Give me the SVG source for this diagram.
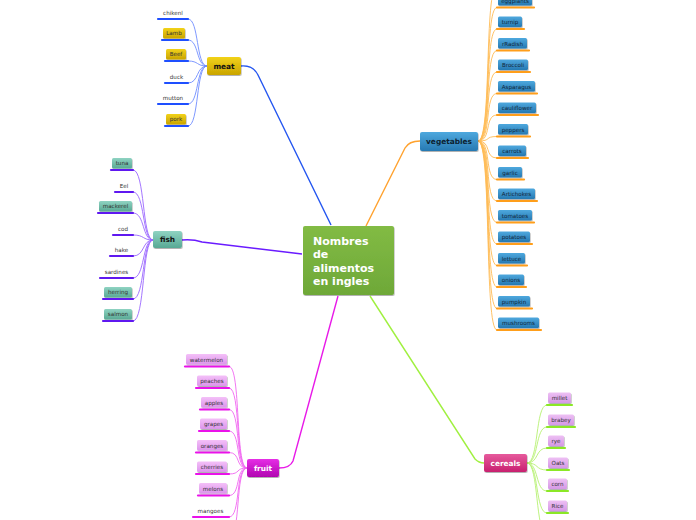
<svg xmlns="http://www.w3.org/2000/svg" width="696" height="520" viewBox="0 0 696 520">
<defs>
<linearGradient id="gGreen" x1="0" y1="0" x2="0" y2="1"><stop offset="0" stop-color="#82bb44"/><stop offset="1" stop-color="#6ea838"/></linearGradient>
<linearGradient id="gGold" x1="0" y1="0" x2="0" y2="1"><stop offset="0" stop-color="#f2d21a"/><stop offset="1" stop-color="#c9a400"/></linearGradient>
<linearGradient id="gTeal" x1="0" y1="0" x2="0" y2="1"><stop offset="0" stop-color="#8fd3c2"/><stop offset="1" stop-color="#58a994"/></linearGradient>
<linearGradient id="gBlue" x1="0" y1="0" x2="0" y2="1"><stop offset="0" stop-color="#4ea8de"/><stop offset="1" stop-color="#2679b2"/></linearGradient>
<linearGradient id="gMag" x1="0" y1="0" x2="0" y2="1"><stop offset="0" stop-color="#e62ee6"/><stop offset="1" stop-color="#b005b0"/></linearGradient>
<linearGradient id="gPink" x1="0" y1="0" x2="0" y2="1"><stop offset="0" stop-color="#e65a9c"/><stop offset="1" stop-color="#c8206f"/></linearGradient>
<linearGradient id="gLFruit" x1="0" y1="0" x2="0" y2="1"><stop offset="0" stop-color="#f4c0f8"/><stop offset="1" stop-color="#dc94ec"/></linearGradient>
<linearGradient id="gLCer" x1="0" y1="0" x2="0" y2="1"><stop offset="0" stop-color="#eec0f4"/><stop offset="1" stop-color="#d598e6"/></linearGradient>
<filter id="sh" x="-20%" y="-20%" width="140%" height="150%"><feDropShadow dx="0.6" dy="1" stdDeviation="0.7" flood-color="#000" flood-opacity="0.3"/></filter>
</defs>
<style>
.lbl{font-family:"DejaVu Sans","Liberation Sans",sans-serif;font-size:5.6px;fill:#333;text-anchor:middle}
.nd{font-family:"DejaVu Sans","Liberation Sans",sans-serif;font-size:7.4px;font-weight:bold;text-anchor:middle}
.ctr{font-family:"DejaVu Sans","Liberation Sans",sans-serif;font-size:11px;font-weight:bold;fill:#fff}
.c{fill:none;stroke-width:0.9}
.u{stroke-width:2.2;stroke-linecap:round;fill:none}
.cm{stroke:#6f8cff}.um{stroke:#1e4fff}
.cf{stroke:#9a66ff}.uf{stroke:#5f18f0}
.cv{stroke:#ffbb55}.uv{stroke:#ff9e1a}
.cr{stroke:#f066f0}.ur{stroke:#ea12ea}
.cc{stroke:#b6f070}.uc{stroke:#8be826}
</style>

<g id="connectors">
<path d="M241,66 Q253,65 258,75 L331,225" fill="none" stroke="#2456f0" stroke-width="1.4"/>
<path d="M182,240 Q193,239 202,242 L302,254" fill="none" stroke="#6a1bff" stroke-width="1.4"/>
<path d="M366,226 L405,148 Q409,141 420,141" fill="none" stroke="#ffa22e" stroke-width="1.4"/>
<path d="M338,296 L293,461 Q290,468 279,468" fill="none" stroke="#e81ae8" stroke-width="1.4"/>
<path d="M370,296 L475,459 Q479,463 484,463" fill="none" stroke="#a0f040" stroke-width="1.4"/>
<g class="c cm">
<path d="M207,66 C196,66 199,19 188,19"/><path d="M207,66 C196,66 199,40 188,40"/><path d="M207,66 C196,66 199,61 188,61"/>
<path d="M207,66 C196,66 199,83 188,83"/><path d="M207,66 C196,66 199,104 188,104"/><path d="M207,66 C196,66 199,126 188,126"/>
</g>
<g class="c cf">
<path d="M153,240 C142,240 145,170 133,170"/><path d="M153,240 C142,240 145,192 133,192"/><path d="M153,240 C142,240 145,213 133,213"/>
<path d="M153,240 C142,240 145,235 133,235"/><path d="M153,240 C142,240 145,256 133,256"/><path d="M153,240 C142,240 145,278 133,278"/>
<path d="M153,240 C142,240 145,299 133,299"/><path d="M153,240 C142,240 145,321 133,321"/>
</g>
<g class="c cv">
<path d="M478,141 C492,141 484,-14 497,-14"/>
<path d="M478,141 C492,141 484,7.5 497,7.5"/><path d="M478,141 C492,141 484,29 497,29"/><path d="M478,141 C492,141 484,50.5 497,50.5"/>
<path d="M478,141 C492,141 484,72 497,72"/><path d="M478,141 C492,141 484,93.5 497,93.5"/><path d="M478,141 C492,141 484,115 497,115"/>
<path d="M478,141 C492,141 484,136.5 497,136.5"/><path d="M478,141 C492,141 484,158 497,158"/><path d="M478,141 C492,141 484,179.5 497,179.5"/>
<path d="M478,141 C492,141 484,201 497,201"/><path d="M478,141 C492,141 484,222.5 497,222.5"/><path d="M478,141 C492,141 484,244 497,244"/>
<path d="M478,141 C492,141 484,265.5 497,265.5"/><path d="M478,141 C492,141 484,287 497,287"/><path d="M478,141 C492,141 484,308.5 497,308.5"/>
<path d="M478,141 C492,141 484,330 497,330"/>
</g>
<g class="c cr">
<path d="M247,468 C235,468 241,366.5 229,366.5"/><path d="M247,468 C235,468 241,388 229,388"/><path d="M247,468 C235,468 241,409.5 229,409.5"/>
<path d="M247,468 C235,468 241,431 229,431"/><path d="M247,468 C235,468 241,452.5 229,452.5"/><path d="M247,468 C235,468 241,474 229,474"/>
<path d="M247,468 C235,468 241,495.5 229,495.5"/><path d="M247,468 C235,468 241,517 229,517"/><path d="M247,468 C235,468 241,538.5 229,538.5"/>
</g>
<g class="c cc">
<path d="M527,463 C539,463 535,405 547,405"/><path d="M527,463 C539,463 535,427 547,427"/><path d="M527,463 C539,463 535,448 547,448"/>
<path d="M527,463 C539,463 535,470 547,470"/><path d="M527,463 C539,463 535,491 547,491"/><path d="M527,463 C539,463 535,513 547,513"/>
<path d="M527,463 C539,463 535,534.5 547,534.5"/>
</g>
</g>

<g id="center">
<rect x="303" y="226" width="91" height="69" rx="2" fill="url(#gGreen)" filter="url(#sh)"/>
<text class="ctr" x="313" y="244.5">Nombres</text>
<text class="ctr" x="313" y="258">de</text>
<text class="ctr" x="313" y="271.5">alimentos</text>
<text class="ctr" x="313" y="285">en ingles</text>
</g>

<g id="meat">
<rect x="207" y="57" width="34" height="18" rx="2" fill="url(#gGold)" filter="url(#sh)"/>
<text class="nd" x="224" y="69.3" fill="#111">meat</text>
</g>
<g id="meat-items">
<g id="chikenl"><path class="u um" d="M158,19 H188"/><text class="lbl" x="173" y="14.5">chikenl</text></g>
<g id="lamb"><rect x="163" y="28" width="22" height="10.5" rx="1.5" fill="url(#gGold)" filter="url(#sh)"/><path class="u um" d="M162,40 H188"/><text class="lbl" x="174" y="35.3">Lamb</text></g>
<g id="beef"><rect x="166" y="49" width="20" height="10.5" rx="1.5" fill="url(#gGold)" filter="url(#sh)"/><path class="u um" d="M165,61 H188"/><text class="lbl" x="176" y="56.3">Beef</text></g>
<g id="duck"><path class="u um" d="M165,83 H188"/><text class="lbl" x="176.5" y="78.5">duck</text></g>
<g id="mutton"><path class="u um" d="M158,104 H188"/><text class="lbl" x="173" y="99.5">mutton</text></g>
<g id="pork"><rect x="166" y="114" width="20" height="10.5" rx="1.5" fill="url(#gGold)" filter="url(#sh)"/><path class="u um" d="M165,126 H188"/><text class="lbl" x="176" y="121.3">pork</text></g>
</g>

<g id="fish">
<rect x="153" y="231" width="29" height="17" rx="2" fill="url(#gTeal)" filter="url(#sh)"/>
<text class="nd" x="167.5" y="242.3" fill="#111">fish</text>
</g>
<g id="fish-items">
<g id="tuna"><rect x="112" y="158" width="20" height="10.5" rx="1.5" fill="url(#gTeal)" filter="url(#sh)"/><path class="u uf" d="M111,170 H133"/><text class="lbl" x="122" y="165.3">tuna</text></g>
<g id="eel"><path class="u uf" d="M115,192 H133"/><text class="lbl" x="124" y="187.5">Eel</text></g>
<g id="mackerel"><rect x="99" y="201" width="33" height="10.5" rx="1.5" fill="url(#gTeal)" filter="url(#sh)"/><path class="u uf" d="M98,213 H133"/><text class="lbl" x="115.5" y="208.3">mackerel</text></g>
<g id="cod"><path class="u uf" d="M113,235 H133"/><text class="lbl" x="123" y="230.5">cod</text></g>
<g id="hake"><path class="u uf" d="M110,256 H133"/><text class="lbl" x="121.5" y="251.5">hake</text></g>
<g id="sardines"><path class="u uf" d="M100,278 H133"/><text class="lbl" x="116.5" y="273.5">sardines</text></g>
<g id="herring"><rect x="104" y="287" width="28" height="10.5" rx="1.5" fill="url(#gTeal)" filter="url(#sh)"/><path class="u uf" d="M103,299 H133"/><text class="lbl" x="118" y="294.3">herring</text></g>
<g id="salmon"><rect x="104" y="309" width="28" height="10.5" rx="1.5" fill="url(#gTeal)" filter="url(#sh)"/><path class="u uf" d="M103,321 H133"/><text class="lbl" x="118" y="316.3">salmon</text></g>
</g>

<g id="vegetables">
<rect x="420" y="132" width="58" height="19" rx="2" fill="url(#gBlue)" filter="url(#sh)"/>
<text class="nd" x="449" y="144" fill="#0c1e30">vegetables</text>
</g>
<g id="vegetable-items" fill="url(#gBlue)">
<g id="eggplants"><rect x="498" y="-5" width="34" height="10.5" rx="1.5" filter="url(#sh)"/><path class="u uv" d="M497,7.5 H534"/><text class="lbl" x="515" y="2.5" style="fill:#10263a">eggplants</text></g>
<g id="turnip"><rect x="498" y="16.5" width="24" height="10.5" rx="1.5" filter="url(#sh)"/><path class="u uv" d="M497,29 H524"/><text class="lbl" x="510" y="24" style="fill:#10263a">turnip</text></g>
<g id="rradish"><rect x="498" y="38" width="29" height="10.5" rx="1.5" filter="url(#sh)"/><path class="u uv" d="M497,50.5 H529"/><text class="lbl" x="512.5" y="45.5" style="fill:#10263a">rRadish</text></g>
<g id="broccoli"><rect x="498" y="59.5" width="30" height="10.5" rx="1.5" filter="url(#sh)"/><path class="u uv" d="M497,72 H530"/><text class="lbl" x="513" y="67" style="fill:#10263a">Broccoli</text></g>
<g id="asparagus"><rect x="498" y="81" width="37" height="10.5" rx="1.5" filter="url(#sh)"/><path class="u uv" d="M497,93.5 H537"/><text class="lbl" x="516.5" y="88.5" style="fill:#10263a">Asparagus</text></g>
<g id="cauliflower"><rect x="498" y="102.5" width="38" height="10.5" rx="1.5" filter="url(#sh)"/><path class="u uv" d="M497,115 H538"/><text class="lbl" x="517" y="110" style="fill:#10263a">cauliflower</text></g>
<g id="peppers"><rect x="498" y="124" width="30" height="10.5" rx="1.5" filter="url(#sh)"/><path class="u uv" d="M497,136.5 H530"/><text class="lbl" x="513" y="131.5" style="fill:#10263a">peppers</text></g>
<g id="carrots"><rect x="498" y="145.5" width="28" height="10.5" rx="1.5" filter="url(#sh)"/><path class="u uv" d="M497,158 H528"/><text class="lbl" x="512" y="153" style="fill:#10263a">carrots</text></g>
<g id="garlic"><rect x="498" y="167" width="24" height="10.5" rx="1.5" filter="url(#sh)"/><path class="u uv" d="M497,179.5 H524"/><text class="lbl" x="510" y="174.5" style="fill:#10263a">garlic</text></g>
<g id="artichokes"><rect x="498" y="188.5" width="37" height="10.5" rx="1.5" filter="url(#sh)"/><path class="u uv" d="M497,201 H537"/><text class="lbl" x="516.5" y="196" style="fill:#10263a">Artichokes</text></g>
<g id="tomatoes"><rect x="498" y="210" width="34" height="10.5" rx="1.5" filter="url(#sh)"/><path class="u uv" d="M497,222.5 H534"/><text class="lbl" x="515" y="217.5" style="fill:#10263a">tomatoes</text></g>
<g id="potatoes"><rect x="498" y="231.5" width="32" height="10.5" rx="1.5" filter="url(#sh)"/><path class="u uv" d="M497,244 H532"/><text class="lbl" x="514" y="239" style="fill:#10263a">potatoes</text></g>
<g id="lettuce"><rect x="498" y="253" width="27" height="10.5" rx="1.5" filter="url(#sh)"/><path class="u uv" d="M497,265.5 H527"/><text class="lbl" x="511.5" y="260.5" style="fill:#10263a">lettuce</text></g>
<g id="onions"><rect x="498" y="274.5" width="26" height="10.5" rx="1.5" filter="url(#sh)"/><path class="u uv" d="M497,287 H526"/><text class="lbl" x="511" y="282" style="fill:#10263a">onions</text></g>
<g id="pumpkin"><rect x="498" y="296" width="32" height="10.5" rx="1.5" filter="url(#sh)"/><path class="u uv" d="M497,308.5 H532"/><text class="lbl" x="514" y="303.5" style="fill:#10263a">pumpkin</text></g>
<g id="mushrooms"><rect x="498" y="317.5" width="41" height="10.5" rx="1.5" filter="url(#sh)"/><path class="u uv" d="M497,330 H541"/><text class="lbl" x="518.5" y="325" style="fill:#10263a">mushrooms</text></g>
</g>

<g id="fruit">
<rect x="247" y="459" width="32" height="18" rx="2" fill="url(#gMag)" filter="url(#sh)"/>
<text class="nd" x="263" y="470.5" fill="#fff">fruit</text>
</g>
<g id="fruit-items" fill="url(#gLFruit)">
<g id="watermelon"><rect x="186" y="354" width="41" height="10.5" rx="1.5" filter="url(#sh)"/><path class="u ur" d="M185,366.5 H229"/><text class="lbl" x="206.5" y="361.5">watermelon</text></g>
<g id="peaches"><rect x="197" y="375.5" width="30" height="10.5" rx="1.5" filter="url(#sh)"/><path class="u ur" d="M196,388 H229"/><text class="lbl" x="212" y="383">peaches</text></g>
<g id="apples"><rect x="201" y="397" width="26" height="10.5" rx="1.5" filter="url(#sh)"/><path class="u ur" d="M200,409.5 H229"/><text class="lbl" x="214" y="404.5">apples</text></g>
<g id="grapes"><rect x="200" y="418.5" width="27" height="10.5" rx="1.5" filter="url(#sh)"/><path class="u ur" d="M199,431 H229"/><text class="lbl" x="213.5" y="426">grapes</text></g>
<g id="oranges"><rect x="197" y="440" width="30" height="10.5" rx="1.5" filter="url(#sh)"/><path class="u ur" d="M196,452.5 H229"/><text class="lbl" x="212" y="447.5">oranges</text></g>
<g id="cherries"><rect x="197" y="461.5" width="30" height="10.5" rx="1.5" filter="url(#sh)"/><path class="u ur" d="M196,474 H229"/><text class="lbl" x="212" y="469">cherries</text></g>
<g id="melons"><rect x="199" y="483" width="28" height="10.5" rx="1.5" filter="url(#sh)"/><path class="u ur" d="M198,495.5 H229"/><text class="lbl" x="213" y="490.5">melons</text></g>
<g id="mangoes"><path class="u ur" d="M193,517 H229"/><text class="lbl" x="210.5" y="512.5">mangoes</text></g>
</g>

<g id="cereals">
<rect x="484" y="454" width="43" height="18" rx="2" fill="url(#gPink)" filter="url(#sh)"/>
<text class="nd" x="505.5" y="465.5" fill="#fff">cereals</text>
</g>
<g id="cereal-items" fill="url(#gLCer)">
<g id="millet"><rect x="548" y="392.5" width="23" height="10.5" rx="1.5" filter="url(#sh)"/><path class="u uc" d="M547,405 H572"/><text class="lbl" x="559.5" y="400">millet</text></g>
<g id="brabey"><rect x="548" y="414.5" width="26" height="10.5" rx="1.5" filter="url(#sh)"/><path class="u uc" d="M547,427 H575"/><text class="lbl" x="561" y="422">brabey</text></g>
<g id="rye"><rect x="548" y="435.5" width="16" height="10.5" rx="1.5" filter="url(#sh)"/><path class="u uc" d="M547,448 H565"/><text class="lbl" x="556" y="443">rye</text></g>
<g id="oats"><rect x="548" y="457.5" width="20" height="10.5" rx="1.5" filter="url(#sh)"/><path class="u uc" d="M547,470 H569"/><text class="lbl" x="558" y="465">Oats</text></g>
<g id="corn"><rect x="548" y="478.5" width="19" height="10.5" rx="1.5" filter="url(#sh)"/><path class="u uc" d="M547,491 H568"/><text class="lbl" x="557.5" y="486">corn</text></g>
<g id="rice"><rect x="548" y="500.5" width="19" height="10.5" rx="1.5" filter="url(#sh)"/><path class="u uc" d="M547,513 H568"/><text class="lbl" x="557.5" y="508">Rice</text></g>
</g>
</svg>
